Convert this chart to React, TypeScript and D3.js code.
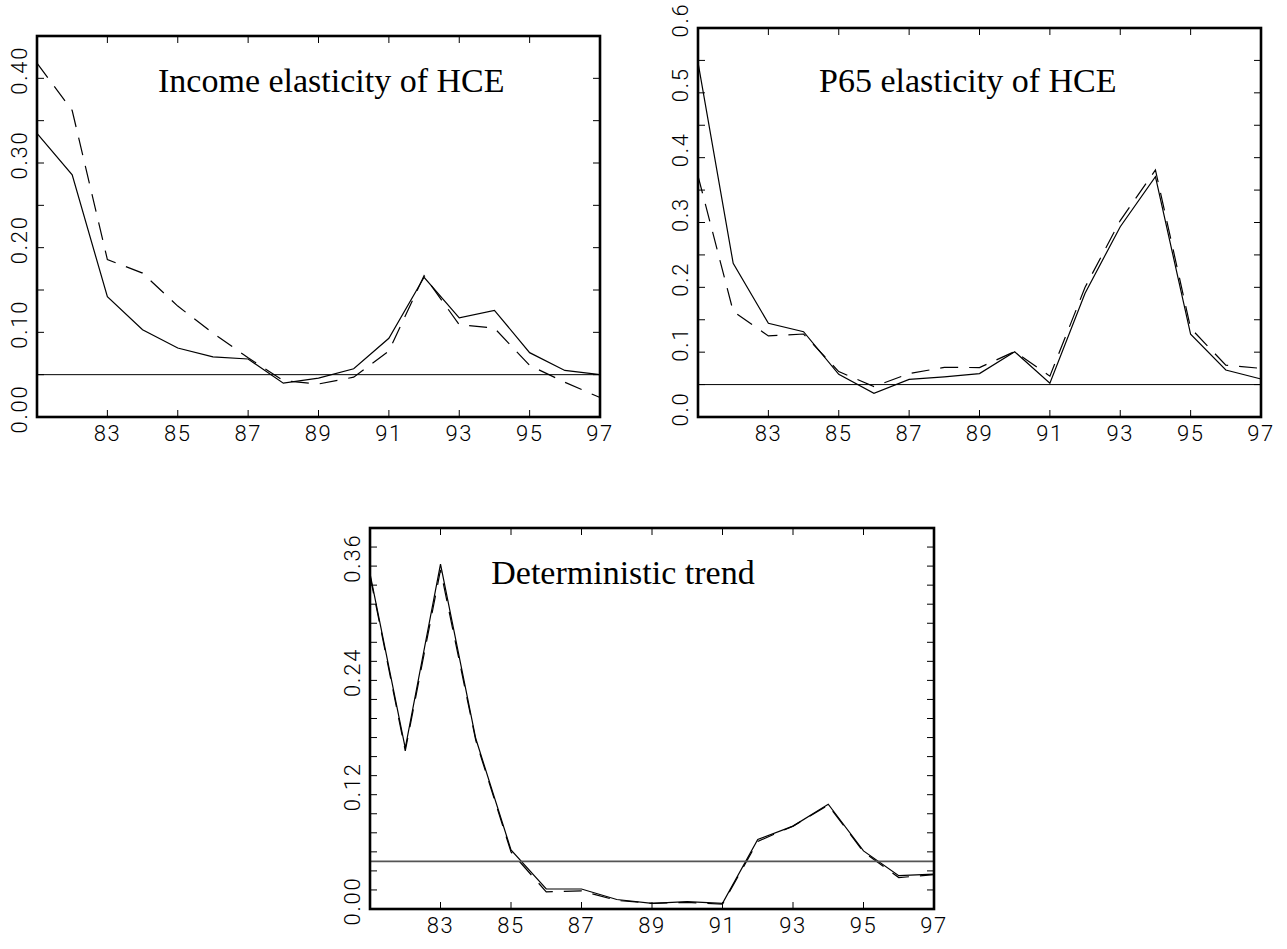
import React from 'react';
import * as d3 from 'd3';

// years on the x axis (19xx)
const years = [81, 82, 83, 84, 85, 86, 87, 88, 89, 90, 91, 92, 93, 94, 95, 96, 97];
const xTickYears = [83, 85, 87, 89, 91, 93, 95, 97];

// Income elasticity of HCE
const incomeSolid = [0.335, 0.286, 0.142, 0.103, 0.0815, 0.071, 0.0685, 0.040, 0.046, 0.057, 0.093, 0.165, 0.117, 0.126, 0.076, 0.055, 0.050];
const incomeDashed = [0.418, 0.362, 0.186, 0.170, 0.131, 0.099, 0.070, 0.043, 0.039, 0.047, 0.078, 0.167, 0.109, 0.105, 0.061, 0.041, 0.023];

// P65 elasticity of HCE
const p65Solid = [0.547, 0.237, 0.1445, 0.1316, 0.0658, 0.0365, 0.058, 0.062, 0.067, 0.1007, 0.052, 0.191, 0.2935, 0.3707, 0.1276, 0.0725, 0.0586];
const p65Dashed = [0.372, 0.163, 0.125, 0.128, 0.070, 0.047, 0.067, 0.0766, 0.0762, 0.101, 0.063, 0.200, 0.303, 0.381, 0.137, 0.080, 0.075];

// Deterministic trend
const trendSolid = [0.352, 0.169, 0.362, 0.179, 0.062, 0.021, 0.021, 0.010, 0.006, 0.0077, 0.006, 0.073, 0.087, 0.110, 0.061, 0.035, 0.0367];
const trendDashed = [0.350, 0.166, 0.356, 0.177, 0.060, 0.018, 0.019, 0.009, 0.006, 0.007, 0.005, 0.071, 0.087, 0.109, 0.060, 0.033, 0.036];

// y tick labels per panel
const incomeYLabels = [0, 0.1, 0.2, 0.3, 0.4];
const p65YLabels = [0, 0.1, 0.2, 0.3, 0.4, 0.5, 0.6];
const trendYLabels = [0, 0.12, 0.24, 0.36];

const critical = 0.05;

const NUM_FONT = 'Roboto, "Liberation Sans", sans-serif';
const TITLE_FONT = '"Liberation Serif", "DejaVu Serif", serif';

interface PanelProps {
  left: number;
  right: number;
  top: number;
  bottom: number;
  yMax: number;
  minorStep: number;
  yLabels: number[];
  yFormat: string;
  solid: number[];
  dashed: number[];
  title: string;
  refColor?: string;
  refWidth?: number;
}

const Panel: React.FC<PanelProps> = ({
  left, right, top, bottom, yMax, minorStep, yLabels, yFormat,
  solid, dashed, title, refColor = '#000', refWidth = 1
}) => {
  const x = d3.scaleLinear().domain([81, 97]).range([left, right]);
  const y = d3.scaleLinear().domain([0, yMax]).range([bottom, top]);
  const fmt = d3.format(yFormat);

  const line = d3.line<number>()
    .x((_, i) => x(years[i]))
    .y(d => y(d));

  const minor = d3.range(minorStep, yMax - minorStep / 2, minorStep);
  const tickLen = 7;

  return (
    <g>
      {/* data lines */}
      <path d={line(solid) || ''} fill="none" stroke="#000" strokeWidth={1.2} />
      <path d={line(dashed) || ''} fill="none" stroke="#000" strokeWidth={1.2} strokeDasharray="18 11" />

      {/* 5% reference line */}
      <line x1={left} x2={right} y1={y(critical)} y2={y(critical)} stroke={refColor} strokeWidth={refWidth} />

      {/* y ticks, both sides, inward */}
      {minor.map(v => (
        <g key={`yt${v}`}>
          <line x1={left} x2={left + tickLen} y1={y(v)} y2={y(v)} stroke="#000" strokeWidth={1} />
          <line x1={right} x2={right - tickLen} y1={y(v)} y2={y(v)} stroke="#000" strokeWidth={1} />
        </g>
      ))}

      {/* x ticks, top and bottom, inward */}
      {xTickYears.slice(0, -1).map(t => (
        <g key={`xt${t}`}>
          <line x1={x(t)} x2={x(t)} y1={bottom} y2={bottom - tickLen} stroke="#000" strokeWidth={1} />
          <line x1={x(t)} x2={x(t)} y1={top} y2={top + tickLen} stroke="#000" strokeWidth={1} />
        </g>
      ))}

      {/* frame */}
      <rect x={left} y={top} width={right - left} height={bottom - top} fill="none" stroke="#000" strokeWidth={2.6} />

      {/* y labels, rotated */}
      {yLabels.map(v => (
        <text
          key={`yl${v}`}
          transform={`translate(${left - 10},${y(v) - 8}) rotate(-90)`}
          textAnchor="middle"
          fontFamily={NUM_FONT}
          fontWeight={300}
          fontSize={22}
          letterSpacing={1.8}
          fill="#000"
        >
          {fmt(v)}
        </text>
      ))}

      {/* x labels */}
      {xTickYears.map(t => (
        <text
          key={`xl${t}`}
          x={x(t)}
          y={bottom + 24}
          textAnchor="middle"
          fontFamily={NUM_FONT}
          fontWeight={300}
          fontSize={22}
          letterSpacing={1.5}
          fill="#000"
        >
          {t}
        </text>
      ))}

      {/* title */}
      <text
        x={left + 0.215 * (right - left)}
        y={bottom - 325}
        fontFamily={TITLE_FONT}
        fontSize={34}
        fill="#000"
      >
        {title}
      </text>
    </g>
  );
};

const App: React.FC = () => {
  return (
    <svg
      width={1287}
      height={949}
      style={{ position: 'absolute', left: 0, top: 0, background: '#fff' }}
    >
      <rect width={1287} height={949} fill="#fff" />
      <Panel
        left={37} right={600} top={36} bottom={417}
        yMax={0.45} minorStep={0.05} yLabels={incomeYLabels} yFormat=".2f"
        solid={incomeSolid} dashed={incomeDashed}
        title="Income elasticity of HCE"
      />
      <Panel
        left={698} right={1261} top={28} bottom={417}
        yMax={0.6} minorStep={0.05} yLabels={p65YLabels} yFormat=".1f"
        solid={p65Solid} dashed={p65Dashed}
        title="P65 elasticity of HCE"
      />
      <Panel
        left={370} right={934} top={528} bottom={909}
        yMax={0.40} minorStep={0.02} yLabels={trendYLabels} yFormat=".2f"
        solid={trendSolid} dashed={trendDashed}
        title="Deterministic trend"
        refColor="#555" refWidth={1.6}
      />
    </svg>
  );
};

export default App;
